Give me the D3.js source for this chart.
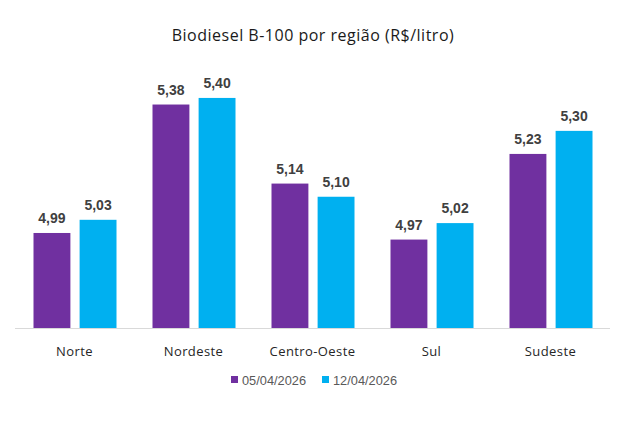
<!DOCTYPE html>
<html lang="pt">
  <head>
    <meta charset="UTF-8" />
    <title>Biodiesel B-100 por região</title>
    <script src="https://d3js.org/d3.v7.min.js"></script>
    <style>
      body { margin: 0; background: #fff; }
      text { font-family: "Liberation Sans", Arial, sans-serif; }
      .title, .cat { font-family: "Open Sans", "Noto Sans", sans-serif; }
    </style>
  </head>
  <body>
    <svg id="chart"></svg>
    <script>
      const WIDTH = 626;
      const HEIGHT = 423;

      // data
      const categories = ["Norte", "Nordeste", "Centro-Oeste", "Sul", "Sudeste"];
      const seriesNames = ["05/04/2026", "12/04/2026"];
      const seriesA = [4.99, 5.38, 5.14, 4.97, 5.23];
      const seriesB = [5.03, 5.40, 5.10, 5.02, 5.30];
      const colors = ["#7030A0", "#00B0F0"];

      const rows = categories.map((c, i) => ({ cat: c, values: [seriesA[i], seriesB[i]] }));

      const svg = d3.select("#chart").attr("width", WIDTH).attr("height", HEIGHT);

      // title
      svg.append("text")
        .classed("title", true)
        .attr("x", 313)
        .attr("y", 41)
        .attr("text-anchor", "middle")
        .style("font-size", "16px")
        .style("letter-spacing", "0.5px")
        .style("fill", "#1a1a1a")
        .text("Biodiesel B-100 por região (R$/litro)");

      const x0 = d3.scaleBand().domain(categories).range([15, 610]);
      const x1 = d3.scaleBand().domain([0, 1]).range([18.5, 101.5]).paddingInner(0.2);
      const y = d3.scaleLinear().domain([4.7, 5.5]).range([328.5, 65]);

      const groups = svg.append("g")
        .selectAll("g")
        .data(rows)
        .enter()
        .append("g")
        .attr("transform", (d) => `translate(${x0(d.cat)},0)`);

      groups.selectAll("rect")
        .data((d) => d.values)
        .enter()
        .append("rect")
        .attr("x", (d, i) => x1(i))
        .attr("width", x1.bandwidth())
        .attr("y", (d) => y(d))
        .attr("height", (d) => y(4.7) - y(d))
        .style("fill", (d, i) => colors[i]);

      groups.selectAll(".val")
        .data((d) => d.values)
        .enter()
        .append("text")
        .classed("val", true)
        .attr("x", (d, i) => x1(i) + x1.bandwidth() / 2)
        .attr("y", (d) => y(d) - 10)
        .attr("text-anchor", "middle")
        .style("font-size", "14px")
        .style("font-weight", "bold")
        .style("fill", "#404040")
        .text((d) => d.toFixed(2).replace(".", ","));

      // baseline
      svg.append("line")
        .attr("x1", 15).attr("x2", 610)
        .attr("y1", 328.5).attr("y2", 328.5)
        .style("stroke", "#d9d9d9")
        .style("stroke-width", 1);

      svg.append("g")
        .selectAll("text")
        .data(categories)
        .enter()
        .append("text")
        .classed("cat", true)
        .attr("x", (d) => x0(d) + x0.bandwidth() / 2)
        .attr("y", 356)
        .attr("text-anchor", "middle")
        .style("font-size", "13px")
        .style("letter-spacing", "0.4px")
        .style("fill", "#262626")
        .text((d) => d);

      // legend
      const legendX = [231, 322];
      const legend = svg.append("g")
        .selectAll("g")
        .data(seriesNames)
        .enter()
        .append("g")
        .attr("transform", (d, i) => `translate(${legendX[i]},380)`);
      legend.append("rect")
        .attr("x", 0).attr("y", -4)
        .attr("width", 7).attr("height", 7)
        .style("fill", (d, i) => colors[i]);
      legend.append("text")
        .attr("x", 11)
        .attr("y", 4.5)
        .style("font-size", "12.8px")
        .style("fill", "#595959")
        .text((d) => d);
    </script>
  </body>
</html>
